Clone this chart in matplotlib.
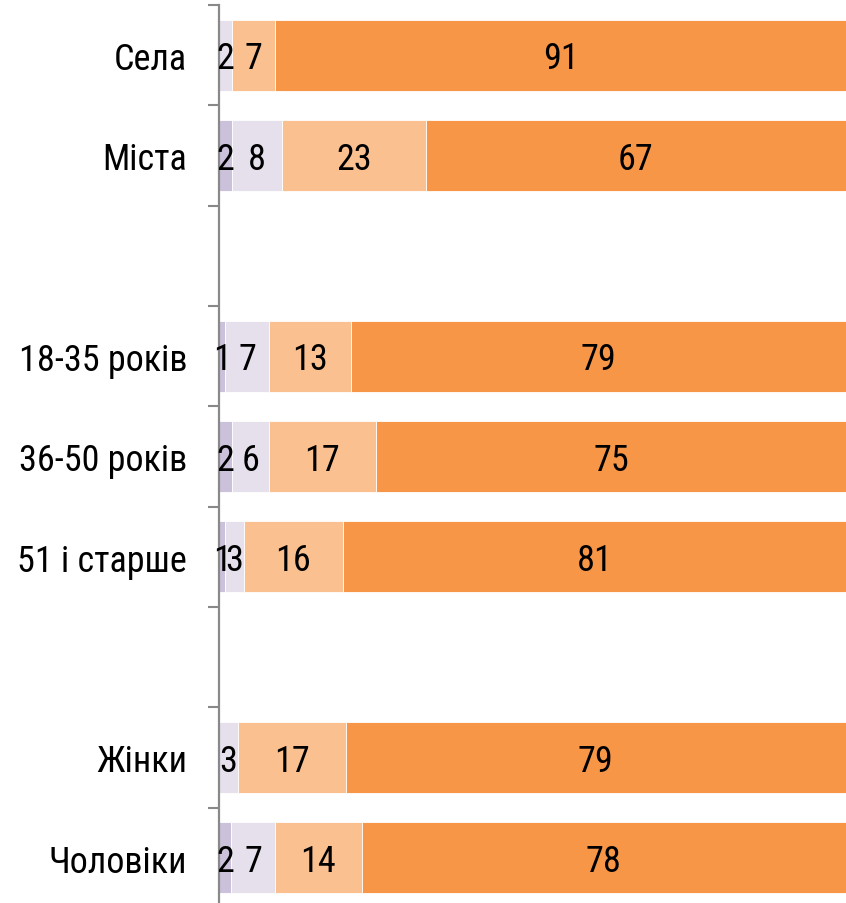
import matplotlib
matplotlib.use("Agg")
import matplotlib.pyplot as plt
import numpy as np

plt.rcParams['font.family'] = ['Roboto Condensed', 'Archivo Narrow', 'Liberation Sans', 'DejaVu Sans']

categories = ["Села", "Міста", "", "18-35 років", "36-50 років", "51 і старше", "", "Жінки", "Чоловіки"]
s1 = [0, 2, 0, 1, 2, 1, 0, 0, 2]
s2 = [2, 8, 0, 7, 6, 3, 0, 3, 7]
s3 = [7, 23, 0, 13, 17, 16, 0, 17, 14]
s4 = [91, 67, 0, 79, 75, 81, 0, 79, 78]
series = [s1, s2, s3, s4]
colors = ["#CCC1DA", "#E6E0EC", "#FAC090", "#F79646"]

W, H = 846, 904
fig = plt.figure(figsize=(W/100, H/100), dpi=100)
top_px, bot_px = 6, 909
ax = fig.add_axes([219/W, (H-bot_px)/H, (W-219)/W, (bot_px-top_px)/H])

raw = np.array(series, dtype=float)
tot = raw.sum(axis=0)
tot[tot == 0] = 1
pct = raw / tot * 100  # 100% stacked

y = np.arange(len(categories))
left = np.zeros(len(categories))
for vals, p, c in zip(raw, pct, colors):
    ax.barh(y, p, left=left, height=0.71, color=c, edgecolor="white", linewidth=0.6)
    for yi, (l, v, w) in enumerate(zip(left, vals, p)):
        if v > 0:
            ax.text(l + w/2, yi + 0.03, f"{int(v)}", ha="center", va="center", fontsize=26, color="black")
    left += p

ax.set_xlim(0, 100)
ax.set_ylim(len(categories) - 0.5, -0.5)
ax.set_yticks(y)
ax.set_yticklabels(categories, fontsize=26)
ax.set_yticks(np.arange(len(categories) + 1) - 0.5, minor=True)
ax.tick_params(axis="y", which="major", length=0, pad=23)
ax.tick_params(axis="y", which="minor", length=8, width=1.5, color="#898989")
ax.set_xticks([])
for s in ["top", "right", "bottom"]:
    ax.spines[s].set_visible(False)
ax.spines["left"].set_color("#898989")
ax.spines["left"].set_linewidth(1.6)

fig.savefig("out.png", dpi=100)
